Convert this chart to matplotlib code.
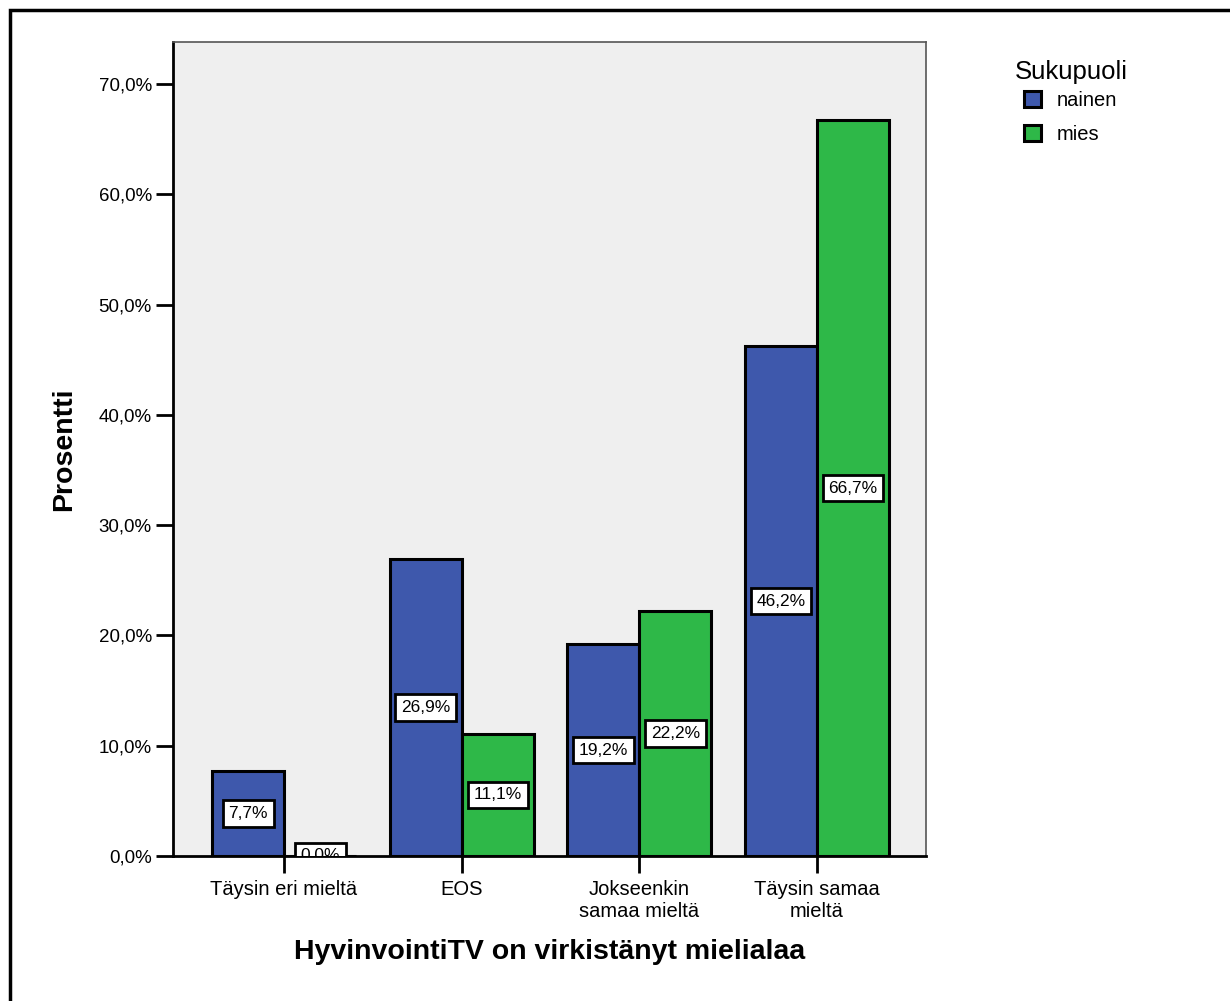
import matplotlib
matplotlib.use("Agg")
import matplotlib.pyplot as plt
from matplotlib.patches import Rectangle
import numpy as np

plt.rcParams['font.family'] = ['Liberation Sans', 'DejaVu Sans']

categories = ["Täysin eri mieltä", "EOS", "Jokseenkin\nsamaa mieltä", "Täysin samaa\nmieltä"]
nainen = [7.7, 26.9, 19.2, 46.2]
mies = [0.0, 11.1, 22.2, 66.7]
series_names = ["nainen", "mies"]
yticks = [0, 10, 20, 30, 40, 50, 60, 70]

blue = "#3E58AC"
green = "#2EB848"

W, H = 1230, 1001
fig = plt.figure(figsize=(W / 100, H / 100), dpi=100)

# outer frame (only left and top edges fall inside the canvas)
fig.patches.append(Rectangle((9.5 / W, -0.05), 1.2, 1 - 9.5 / H + 0.05,
                             transform=fig.transFigure, fill=False,
                             edgecolor="black", linewidth=2.5, zorder=0))

ax = fig.add_axes([173 / W, 1 - 856 / H, (926 - 173) / W, (856 - 42) / H])
ax.set_facecolor("#EFEFEF")

x = np.arange(len(categories))
bw = 0.405
b1 = ax.bar(x - bw / 2, nainen, bw, color=blue, edgecolor="black", linewidth=2.2, zorder=2)
b2 = ax.bar(x + bw / 2, mies, bw, color=green, edgecolor="black", linewidth=2.2, zorder=2)

for bars, vals in ((b1, nainen), (b2, mies)):
    for rect, v in zip(bars, vals):
        cx = rect.get_x() + rect.get_width() / 2
        ax.text(cx, v / 2, f"{v:.1f}%".replace(".", ","), ha="center", va="center",
                fontsize=12.5, zorder=4, clip_on=True,
                bbox=dict(boxstyle="square,pad=0.33", facecolor="white",
                          edgecolor="black", linewidth=2))

ax.set_xlim(-0.625, 3.613)
ax.set_ylim(0, 73.8)
ax.set_yticks(yticks)
ax.set_yticklabels([f"{t:.1f}%".replace(".", ",") for t in yticks], fontsize=13.5)
ax.set_xticks(x)
ax.set_xticklabels(categories, fontsize=14.5, linespacing=1.2)
ax.tick_params(axis="both", direction="out", length=12.3, width=2, color="black")
ax.tick_params(axis="y", pad=3)
ax.tick_params(axis="x", pad=5)

for side in ("top", "right"):
    ax.spines[side].set_color("#555555")
    ax.spines[side].set_linewidth(1.2)
ax.spines["left"].set_linewidth(2)
ax.spines["bottom"].set_linewidth(2)

ax.set_ylabel("Prosentti", fontsize=20.5, fontweight="bold", va="center")
ax.yaxis.set_label_coords((64 - 173) / 753, 0.5)
ax.set_xlabel("HyvinvointiTV on virkistänyt mielialaa", fontsize=20.5,
              fontweight="bold", va="center")
ax.xaxis.set_label_coords(0.5, -(952 - 856) / 814)

fig.text(1015 / W, 1 - 72 / H, "Sukupuoli", fontsize=18.5, ha="left", va="center")
fig.legend([b1, b2], series_names, loc="upper left",
           bbox_to_anchor=(1024 / W, 1 - 91 / H), frameon=False,
           borderpad=0, borderaxespad=0,
           fontsize=14.5, handlelength=0.85, handleheight=0.85,
           handletextpad=0.75, labelspacing=0.72)

fig.savefig("out.png", dpi=100)
